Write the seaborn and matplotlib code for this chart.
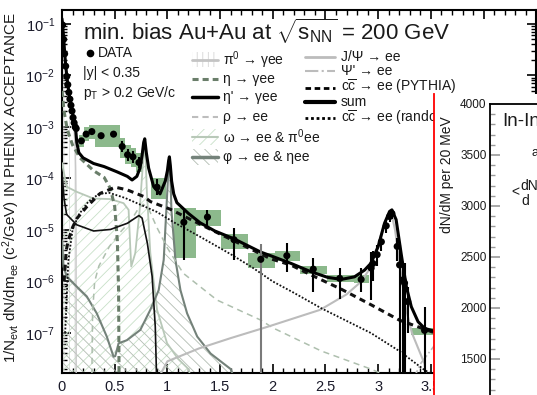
import numpy as np
import pandas as pd
import matplotlib
matplotlib.use("Agg")
import matplotlib.pyplot as plt
import seaborn as sns
from matplotlib.patches import Rectangle
from matplotlib.lines import Line2D
from matplotlib.ticker import MultipleLocator, LogLocator, FuncFormatter, NullFormatter

# ---------------- data (mass in GeV/c^2, yields as log10) ----------------
data_m = [0.005, 0.015, 0.025, 0.035, 0.045, 0.055, 0.065, 0.075, 0.085, 0.095, 0.105, 0.115, 0.125, 0.135,
          0.184, 0.229, 0.283, 0.371, 0.489, 0.571, 0.622, 0.673, 0.730, 0.902, 1.156, 1.380, 1.632, 1.886,
          2.133, 2.384, 2.635, 2.838, 2.933, 2.950, 2.990, 3.030, 3.076, 3.108, 3.130, 3.180, 3.203, 3.235,
          3.250, 3.280, 3.440]
data_lg = [-1.02, -1.30, -1.58, -1.82, -2.02, -2.18, -2.33, -2.46, -2.58, -2.69, -2.82, -2.92, -3.00, -3.03,
           -3.27, -3.14, -3.09, -3.17, -3.14, -3.38, -3.54, -3.58, -3.69, -4.17, -4.85, -4.75, -5.19, -5.57,
           -5.50, -5.76, -5.94, -5.96, -5.74, -5.65, -5.48, -5.23, -4.92, -4.74, -4.68, -5.32, -5.68, -5.97,
           -6.03, -6.39, -6.95]
err_m = data_m[14:]
err_lo = [-3.33, -3.19, -3.14, -3.22, -3.19, -3.48, -3.66, -3.70, -3.79, -4.32, -5.58, -4.92, -5.58, -8.5,
          -5.81, -6.20, -6.35, -6.20, -6.36, -6.00, -5.70, -5.40, -5.05, -4.85, -4.78, -5.60, -8.5, -8.5,
          -8.5, -7.00, -8.5]
err_hi = [-3.21, -3.09, -3.04, -3.12, -3.09, -3.28, -3.42, -3.46, -3.59, -4.02, -4.61, -4.61, -4.97, -5.27,
          -5.26, -5.55, -5.74, -5.74, -5.42, -5.40, -5.30, -5.10, -4.80, -4.65, -4.60, -5.15, -5.30, -5.70,
          -5.65, -6.10, -6.49]
gray_bar_m = [1.886]

box_x0 = [0.165, 0.205, 0.255, 0.31, 0.44, 0.555, 0.60, 0.65, 0.70, 0.84, 1.06, 1.27, 1.505, 1.76, 2.02,
          2.26, 2.51, 2.775, 3.31]
box_x1 = [0.205, 0.255, 0.31, 0.44, 0.555, 0.60, 0.65, 0.70, 0.76, 0.99, 1.27, 1.505, 1.76, 2.02, 2.26,
          2.51, 2.775, 2.91, 3.55]
box_lo = [-3.38, -3.28, -3.24, -3.38, -3.38, -3.60, -3.72, -3.78, -3.87, -4.40, -5.55, -4.92, -5.36, -5.74,
          -5.60, -5.85, -6.02, -6.03, -7.04]
box_hi = [-3.15, -3.00, -2.96, -2.96, -2.96, -3.22, -3.36, -3.40, -3.51, -4.00, -4.58, -4.61, -5.07, -5.45,
          -5.40, -5.70, -5.88, -5.87, -6.91]

sum_m = [0.0, 0.005, 0.015, 0.025, 0.035, 0.045, 0.06, 0.075, 0.09, 0.105, 0.12, 0.13, 0.14, 0.16, 0.2, 0.3,
         0.4, 0.52, 0.62, 0.665, 0.71, 0.74, 0.76, 0.775, 0.785, 0.80, 0.822, 0.87, 0.93, 0.98, 1.0, 1.012,
         1.019, 1.028, 1.04, 1.06, 1.09, 1.2, 1.31, 1.45, 1.63, 1.886, 1.98, 2.17, 2.36, 2.52, 2.65, 2.775,
         2.87, 2.93, 3.0, 3.06, 3.108, 3.13, 3.17, 3.22, 3.267, 3.314, 3.378, 3.44, 3.54, 3.62, 3.69, 3.76,
         4.0, 4.5]
sum_lg = [-0.9, -1.0, -1.25, -1.55, -1.8, -2.0, -2.25, -2.45, -2.62, -2.78, -2.92, -3.05, -3.3, -3.5, -3.6,
          -3.71, -3.77, -3.87, -3.96, -4.03, -3.96, -3.8, -3.55, -3.3, -3.23, -3.5, -3.8, -4.16, -4.3, -4.05,
          -3.85, -3.65, -3.58, -3.75, -4.05, -4.3, -4.47, -4.68, -4.86, -5.02, -5.17, -5.43, -5.50, -5.647,
          -5.81, -5.92, -5.96, -5.91, -5.78, -5.65, -5.32, -4.87, -4.64, -4.61, -4.8, -5.49, -6.1, -6.49,
          -6.78, -6.91, -6.97, -6.9, -6.3, -6.95, -7.25, -7.7]
pi0_m = [0.0, 0.005, 0.015, 0.03, 0.05, 0.075, 0.1, 0.115, 0.125, 0.13, 0.133, 0.135]
pi0_lg = [-0.92, -1.02, -1.28, -1.72, -2.08, -2.48, -2.83, -3.08, -3.38, -3.8, -4.5, -8.5]
eta_m = [0.0, 0.02, 0.05, 0.1, 0.17, 0.3, 0.4, 0.46, 0.5, 0.525, 0.537, 0.543]
eta_lg = [-2.3, -2.7, -3.05, -3.35, -3.6, -3.85, -3.98, -4.2, -4.55, -5.2, -6.2, -8.5]
etap_m = [0.0, 0.02, 0.044, 0.14, 0.3, 0.46, 0.62, 0.73, 0.76, 0.81, 0.855, 0.885, 0.905]
etap_lg = [-3.9, -4.4, -4.7, -4.9, -5.02, -4.99, -4.87, -4.72, -4.77, -5.26, -5.9, -6.88, -8.5]
rho_m = [0.28, 0.29, 0.31, 0.35, 0.45, 0.55, 0.66, 0.72, 0.77, 0.82, 0.9, 1.0, 1.15, 1.47, 1.886, 2.0,
         2.46, 2.93, 3.1]
rho_lg = [-8.5, -6.6, -6.0, -5.7, -5.32, -5.05, -4.8, -4.6, -4.5, -4.58, -4.95, -5.35, -5.84, -6.36, -6.75,
          -6.9, -7.35, -7.7, -7.85]
omega_m = [0.0, 0.044, 0.14, 0.298, 0.457, 0.584, 0.632, 0.647, 0.657, 0.695, 0.737, 0.77, 0.782, 0.795,
           0.806, 0.838, 0.902, 0.997, 1.1, 1.2, 1.3]
omega_lg = [-3.7, -4.16, -4.26, -4.39, -4.40, -4.48, -4.61, -5.3, -5.71, -5.45, -4.61, -3.64, -3.3, -3.7,
            -4.29, -5.45, -6.55, -7.2, -7.5, -7.7, -8.5]
phi_m = [0.0, 0.014, 0.045, 0.14, 0.235, 0.33, 0.425, 0.489, 0.505, 0.537, 0.616, 0.743, 0.838, 0.917,
         0.965, 0.99, 1.005, 1.019, 1.03, 1.038, 1.076, 1.124, 1.187, 1.283, 1.41, 1.6, 1.75]
phi_lg = [-5.2, -5.71, -5.9, -6.1, -6.29, -6.62, -7.07, -7.46, -7.45, -7.2, -7.14, -6.94, -6.55, -6.17,
          -5.58, -4.61, -4.0, -3.62, -4.0, -4.61, -5.58, -6.17, -6.62, -7.07, -7.4, -7.7, -8.5]
jpsi_m = [0.75, 1.0, 1.3, 1.6, 1.95, 2.45, 2.7, 2.84, 2.93, 3.0, 3.05, 3.09, 3.11, 3.13, 3.16, 3.2, 3.26,
          3.32, 3.44, 3.48]
jpsi_lg = [-8.5, -7.55, -7.3, -7.1, -6.88, -6.55, -6.25, -6.0, -5.72, -5.3, -4.95, -4.72, -4.67, -4.72,
           -5.0, -5.6, -6.5, -7.0, -7.6, -8.5]
psip_m = [3.2, 3.4, 3.55, 3.65, 3.686, 3.72, 3.8, 3.95]
psip_lg = [-8.5, -7.6, -7.2, -6.7, -6.35, -6.8, -7.4, -8.5]
ccp_m = [0.02, 0.04, 0.06, 0.1, 0.14, 0.235, 0.362, 0.505, 0.616, 0.775, 0.84, 1.03, 1.155, 1.38, 1.63,
         1.98, 2.17, 2.39, 2.65, 2.93, 3.2, 3.54, 4.0, 4.5]
ccp_lg = [-6.0, -5.4, -5.2, -4.95, -4.78, -4.55, -4.29, -4.17, -4.22, -4.35, -4.45, -4.6, -4.73, -4.96,
          -5.21, -5.56, -5.68, -5.9, -6.15, -6.45, -6.75, -7.0, -7.3, -7.7]
ccr_m = [0.03, 0.06, 0.1, 0.16, 0.25, 0.35, 0.45, 0.6, 0.9, 1.06, 1.3, 1.6, 1.8, 2.0, 2.2, 2.46, 2.93, 3.2,
         3.44, 3.6, 4.0]
ccr_lg = [-7.0, -5.6, -5.0, -4.7, -4.45, -4.3, -4.28, -4.38, -4.65, -4.85, -5.12, -5.47, -5.72, -6.0, -6.22,
          -6.52, -7.0, -7.35, -7.72, -7.9, -8.5]

x_ticks = [0, 0.5, 1, 1.5, 2, 2.5, 3, 3.5, 4, 4.5]
inset_ticks = [1500, 2000, 2500, 3000, 3500, 4000]

# ---------------- style ----------------
sns.set_theme(style="ticks")
plt.rcParams['font.family'] = ['Liberation Sans', 'DejaVu Sans']
plt.rcParams['mathtext.fontset'] = 'custom'
plt.rcParams['mathtext.rm'] = 'Liberation Sans'
plt.rcParams['mathtext.it'] = 'Liberation Sans:italic'
plt.rcParams['mathtext.bf'] = 'Liberation Sans:bold'
plt.rcParams['mathtext.default'] = 'regular'
plt.rcParams['hatch.linewidth'] = 0.6
plt.rcParams['text.color'] = '#1a1a1a'

W, H = 537, 395
def fx(p):
    return p / W
def fy(p):
    return 1 - p / H

fig = plt.figure(figsize=(W / 100, H / 100), dpi=100)
fig.patch.set_facecolor('white')
ax = fig.add_axes([fx(62), fy(373), (536.3 - 62) / W, (373 - 9.5) / H])
ax.set_facecolor('white')
ax.set_yscale('log')
FLOOR = 10 ** -8.5


def curve(x, lg, **kw):
    df = pd.DataFrame({"m": x, "y": 10.0 ** np.asarray(lg)})
    sns.lineplot(data=df, x="m", y="y", ax=ax, estimator=None, sort=False, legend=False, **kw)


def hatched(x, lg, color, hatch):
    ax.fill_between(x, 10.0 ** np.asarray(lg), FLOOR, facecolor='none', edgecolor=color,
                    hatch=hatch, linewidth=0, zorder=1)

# hatched areas
hatched(pi0_m, pi0_lg, '#dadada', '|||')
hatched(omega_m, omega_lg, '#c8e0c8', '///')
hatched(phi_m, phi_lg, '#b2bcb2', '\\\\\\')

# systematic boxes
for x0, x1, lo, hi in zip(box_x0, box_x1, box_lo, box_hi):
    ax.add_patch(Rectangle((x0, 10 ** lo), x1 - x0, 10 ** hi - 10 ** lo, facecolor='#8cb98c',
                           edgecolor='none', zorder=2))

# cocktail curves
curve(pi0_m, pi0_lg, color='#c8c8c8', lw=1.0, zorder=3)
curve(omega_m, omega_lg, color='#b8c8b8', lw=1.3, zorder=3)
curve(phi_m, phi_lg, color='#74827a', lw=1.5, zorder=3)
curve(rho_m, rho_lg, color='#aebfae', lw=1.1, linestyle=(0, (4, 3)), zorder=3)
curve(eta_m, eta_lg, color='#6a7e6a', lw=2.2, linestyle=(0, (2, 1.3)), zorder=3)
curve(etap_m, etap_lg, color='#111111', lw=1.2, zorder=3)
curve(jpsi_m, jpsi_lg, color='#bcbcbc', lw=1.5, zorder=3)
curve(psip_m, psip_lg, color='#bcbcbc', lw=1.2, linestyle='-.', zorder=3)
curve(ccr_m, ccr_lg, color='#111111', lw=1.3, linestyle=(0, (1, 1)), zorder=3)
curve(ccp_m, ccp_lg, color='#111111', lw=2.2, linestyle=(0, (2, 1.5)), zorder=4)
curve(sum_m, sum_lg, color='black', lw=2.2, zorder=4)

# data error bars and points
for m, lo, hi in zip(err_m, err_lo, err_hi):
    c = '#7a7a7a' if m in gray_bar_m else 'black'
    ax.vlines(m, 10 ** lo, 10 ** hi, colors=c, lw=1.5, zorder=5)
sns.scatterplot(x=data_m, y=10.0 ** np.asarray(data_lg), ax=ax, color='black', s=26,
                edgecolor='none', zorder=6, legend=False)

ax.set_xlim(0, 4.5)
ax.set_ylim(10 ** -7.777, 10 ** -0.72)
ax.set_xlabel('')
ax.set_ylabel('')
ax.xaxis.set_minor_locator(MultipleLocator(0.1))
ax.set_xticks(x_ticks)
ax.xaxis.set_major_formatter(FuncFormatter(lambda v, p: f"{v:g}"))
ax.yaxis.set_major_locator(LogLocator(base=10, numticks=20))
ax.yaxis.set_minor_locator(LogLocator(base=10, subs=np.arange(2, 10), numticks=20))
ax.yaxis.set_minor_formatter(NullFormatter())
ax.tick_params(which='both', direction='in', top=True, right=True, color='black')
ax.tick_params(which='major', length=6.5, width=1.2, labelsize=10.5, pad=5, labelcolor='#1a1a2a')
ax.tick_params(which='minor', length=3.3, width=1.0)
for s in ax.spines.values():
    s.set_color('black')
    s.set_linewidth(1.5)

# y label
fig.text(fx(11), fy(188), r"1/N$_{evt}$ dN/dm$_{ee}$ (c$^{2}$/GeV) IN PHENIX ACCEPTANCE",
         rotation=90, ha='center', va='center', fontsize=10.9)

# title
fig.text(fx(83), fy(31), r"min. bias Au+Au at $\sqrt{s_{NN}}$ = 200 GeV", fontsize=16,
         va='center', ha='left')

# legend block 1
fig.add_artist(Line2D([fx(90)], [fy(53)], marker='o', ms=4.5, color='black', lw=0,
                      transform=fig.transFigure))
fig.text(fx(98), fy(53), "DATA", fontsize=10, va='center')
fig.text(fx(83), fy(73), "|y| < 0.35", fontsize=10, va='center')
fig.text(fx(83), fy(93), r"p$_{T}$ > 0.2 GeV/c", fontsize=10, va='center')


def leg_line(x0, x1, y, **kw):
    fig.add_artist(Line2D([fx(x0), fx(x1)], [fy(y), fy(y)], transform=fig.transFigure, **kw))


def leg_box(x0, x1, y0, y1, color, hatch):
    fig.add_artist(Rectangle((fx(x0), fy(y1)), fx(x1) - fx(x0), fy(y0) - fy(y1),
                             transform=fig.transFigure, facecolor='none', edgecolor=color,
                             hatch=hatch, lw=0))

# legend block 2
leg_box(192, 218, 52, 67, '#d6d6d6', '|||')
leg_line(192, 218, 60, color='#c4c4c4', lw=2)
leg_line(192, 218, 79, color='#6a7e6a', lw=2.2, linestyle=(0, (2, 1.3)))
leg_line(192, 218, 97, color='black', lw=2.5)
leg_line(192, 218, 117, color='#bdbdbd', lw=1.5, linestyle=(0, (3, 2)))
leg_box(192, 218, 129, 145, '#c8e0c8', '///')
leg_line(192, 218, 137, color='#b8c8b8', lw=1.5)
leg_box(192, 218, 149, 165, '#b2bcb2', '\\\\\\')
leg_line(192, 218, 157, color='#74827a', lw=2.5)
fig.text(fx(223), fy(60), r"π$^{0}$ → γee", fontsize=10, va='center')
fig.text(fx(223), fy(79), "η → γee", fontsize=10, va='center')
fig.text(fx(223), fy(97), "η' → γee", fontsize=10, va='center')
fig.text(fx(223), fy(117), "ρ → ee", fontsize=10, va='center')
fig.text(fx(223), fy(137), r"ω → ee & π$^{0}$ee", fontsize=10, va='center')
fig.text(fx(223), fy(157), "φ → ee & ηee", fontsize=10, va='center')

# legend block 3
leg_line(305, 335, 57, color='#bcbcbc', lw=2)
leg_line(305, 335, 71, color='#bcbcbc', lw=1.5, linestyle='-.')
leg_line(305, 335, 88, color='black', lw=2, linestyle=(0, (2, 1.3)))
leg_line(305, 335, 102, color='black', lw=3)
leg_line(305, 335, 118, color='black', lw=2, linestyle=(0, (1, 1)))
fig.text(fx(341), fy(57), "J/Ψ → ee", fontsize=10, va='center')
fig.text(fx(341), fy(71), "Ψ' → ee", fontsize=10, va='center')
fig.text(fx(341), fy(87), r"c$\overline{c}$ → ee (PYTHIA)", fontsize=10, va='center')
fig.text(fx(341), fy(102), "sum", fontsize=10, va='center')
fig.text(fx(341), fy(118), r"c$\overline{c}$ → ee (random)", fontsize=10, va='center')

# ---------------- overlapping panel on the right ----------------
ov = fig.add_axes([fx(434), 0, (W - 434) / W + 0.02, fy(94)], zorder=10)
ov.set_facecolor('white')
ov.set_xticks([])
ov.set_yticks([])
for s in ['top', 'right', 'bottom']:
    ov.spines[s].set_visible(False)
ov.spines['left'].set_color('red')
ov.spines['left'].set_linewidth(1.3)

ax2 = fig.add_axes([fx(490), 0, 0.2, fy(104)], zorder=11)
ax2.set_facecolor('none')
ax2.set_xlim(0, 1)
ax2.set_ylim(1147, 4000)
ax2.set_xticks([])
ax2.set_yticks(inset_ticks)
ax2.yaxis.set_minor_locator(MultipleLocator(100))
ax2.tick_params(axis='y', which='both', direction='in', color='#9a9a9a', labelsize=8.5, pad=2.5,
                labelcolor='#1a1a1a')
ax2.tick_params(axis='y', which='major', length=7.2, width=1.2)
ax2.tick_params(axis='y', which='minor', length=3.6, width=1.0)
for s in ['right', 'bottom']:
    ax2.spines[s].set_visible(False)
for s in ['left', 'top']:
    ax2.spines[s].set_color('black')
    ax2.spines[s].set_linewidth(1.3)

fig.text(fx(447), fy(175), "dN/dM per 20 MeV", rotation=90, ha='center', va='center',
         fontsize=10, zorder=20)
fig.text(fx(502), fy(122), "In-In", fontsize=13.5, va='center', zorder=20)
fig.text(fx(531), fy(153), "a", fontsize=9, va='center', zorder=20)
fig.text(fx(511), fy(192), "<", fontsize=10, va='center', zorder=20)
fig.text(fx(520), fy(186), "dN", fontsize=10, va='center', zorder=20)
fig.text(fx(521), fy(201), "d", fontsize=10, va='center', zorder=20)

fig.savefig("out.png", dpi=100, facecolor='white')
